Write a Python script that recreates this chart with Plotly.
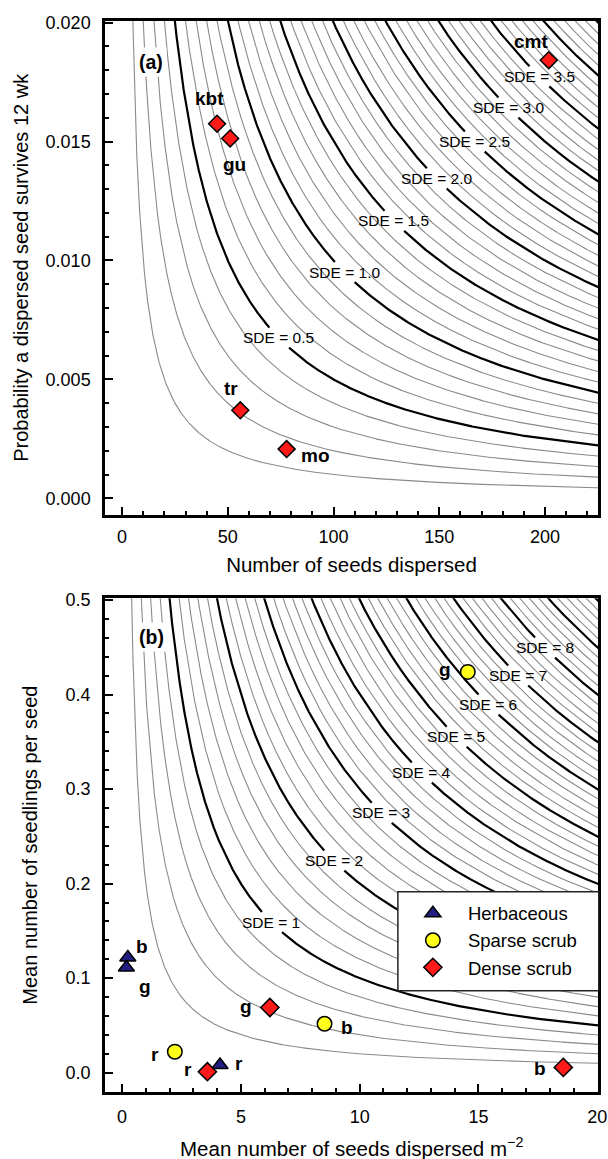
import numpy as np
import plotly.graph_objects as go

# ------------------------------------------------------------------
# DATA
# ------------------------------------------------------------------
# Panel (a): seeds dispersed vs probability a dispersed seed survives 12 wk
a_sites = ["cmt", "kbt", "gu", "tr", "mo"]
a_seeds = [201.8, 44.9, 51.1, 55.9, 77.8]
a_surv = [0.01842, 0.01575, 0.01513, 0.00370, 0.00207]

# SDE isoclines of panel (a): SDE = seeds x survival
a_sde_levels = [round(0.1 * k, 1) for k in range(1, 46)]
a_bold_levels = [0.5, 1.0, 1.5, 2.0, 2.5, 3.0, 3.5, 4.0, 4.5]
a_label_levels = [0.5, 1.0, 1.5, 2.0, 2.5, 3.0, 3.5]
a_label_text = ["SDE = 0.5", "SDE = 1.0", "SDE = 1.5", "SDE = 2.0",
                "SDE = 2.5", "SDE = 3.0", "SDE = 3.5"]

# Panel (b): mean seeds dispersed m-2 vs mean seedlings per seed
habitats = ["Herbaceous", "Sparse scrub", "Dense scrub"]
herb_sites = ["b", "g", "r"]
herb_x = [0.24, 0.18, 4.12]
herb_y = [0.1218, 0.1113, 0.0081]
sparse_sites = ["g", "b", "r"]
sparse_x = [14.55, 8.52, 2.22]
sparse_y = [0.4239, 0.0518, 0.0222]
dense_sites = ["g", "r", "b"]
dense_x = [6.22, 3.59, 18.57]
dense_y = [0.0690, 0.00106, 0.00563]

b_sde_levels = [round(0.2 * k, 1) for k in range(1, 51)]
b_bold_levels = [1, 2, 3, 4, 5, 6, 7, 8, 9, 10]
b_label_levels = [1, 2, 3, 4, 5, 6, 7, 8]
b_label_text = ["SDE = 1", "SDE = 2", "SDE = 3", "SDE = 4",
                "SDE = 5", "SDE = 6", "SDE = 7", "SDE = 8"]

# ------------------------------------------------------------------
# LAYOUT / STYLE
# ------------------------------------------------------------------
FONT = "Liberation Sans, Arial, Helvetica, sans-serif"
W, H = 608, 1159
L_PX, R_PX = 105.3, 598.5
A_T, A_B = 20.7, 515.0
B_T, B_B = 598.3, 1092.0
M_T, M_B = 20, H - 1092
AREA_H = H - M_T - M_B

a_xr = [-8.1, 225.1]
a_yr = [-0.0007, 0.02008]
b_xr = [-0.72, 20.03]
b_yr = [-0.0204, 0.5018]

# label x-positions along each labelled isocline (placement)
a_label_x = [74.0, 105.1, 128.6, 148.7, 166.7, 182.6, 197.3]
b_label_x = [6.28, 8.91, 10.91, 12.6, 14.07, 15.41, 16.66, 17.79]

# point label offsets (px): (dx, dy up)
a_off = [(-18, 19), (-8, 25), (4, -26), (-9, 22), (29, -6)]
herb_off = [(14, 11), (19, -19), (19, 2)]
sparse_off = [(-23, 2), (22, -4), (-20, -3)]
dense_off = [(-24, 1), (-19, 2), (-23, -1)]

# legend box (px)
LEG_L, LEG_R, LEG_T, LEG_B = 398.3, 599.3, 891.7, 990.7

THIN_C, THIN_W = "#8a8a8a", 1.1
BOLD_C, BOLD_W = "#000000", 2.2
SDE_FONT = 15.5


def to_px(x, y, xr, yr, top, bot):
    px = L_PX + (np.asarray(x) - xr[0]) / (xr[1] - xr[0]) * (R_PX - L_PX)
    py = top + (yr[1] - np.asarray(y)) / (yr[1] - yr[0]) * (bot - top)
    return px, py


def iso_xy(c, xr, yr):
    x = np.geomspace(c / (yr[1] * 1.05), xr[1] * 1.02, 2500)
    return x, c / x


def lines_trace(levels, xr, yr, top, bot, labels, color, width, xa, ya):
    xs, ys = [], []
    lab = {lv: (lx, txt) for lv, lx, txt in labels}
    for c in levels:
        x, y = iso_xy(c, xr, yr)
        y = y.astype(float).copy()
        if c in lab:
            lx, txt = lab[c]
            cx, cy = to_px(lx, c / lx, xr, yr, top, bot)
            px, py = to_px(x, y, xr, yr, top, bot)
            hw = len(txt) * 0.52 * SDE_FONT / 2 + 2
            hh = 10
            mask = (np.abs(px - cx) < hw) & (np.abs(py - cy) < hh)
            y[mask] = np.nan
        xs += list(x) + [None]
        ys += [None if np.isnan(v) else v for v in y] + [None]
    return go.Scatter(x=xs, y=ys, mode="lines", xaxis=xa, yaxis=ya,
                      line=dict(color=color, width=width), hoverinfo="skip",
                      showlegend=False, connectgaps=False)


fig = go.Figure()

# ---- panel (a) isoclines ----
a_thin = [c for c in a_sde_levels if c not in a_bold_levels]
fig.add_trace(lines_trace(a_thin, a_xr, a_yr, A_T, A_B, [], THIN_C, THIN_W, "x", "y"))
fig.add_trace(lines_trace(a_bold_levels, a_xr, a_yr, A_T, A_B,
                          list(zip(a_label_levels, a_label_x, a_label_text)),
                          BOLD_C, BOLD_W, "x", "y"))

# ---- panel (b) isoclines ----
b_thin = [c for c in b_sde_levels if c not in b_bold_levels]
fig.add_trace(lines_trace(b_thin, b_xr, b_yr, B_T, B_B, [], THIN_C, THIN_W, "x2", "y2"))
fig.add_trace(lines_trace(b_bold_levels, b_xr, b_yr, B_T, B_B,
                          list(zip(b_label_levels, b_label_x, b_label_text)),
                          BOLD_C, BOLD_W, "x2", "y2"))

RED = "#ff1a1a"
YEL = "#ffff1a"
NAVY = "#211d82"
OUT = dict(color="black", width=1.5)

# ---- panel (a) points ----
fig.add_trace(go.Scatter(x=a_seeds, y=a_surv, mode="markers", xaxis="x", yaxis="y",
                         marker=dict(symbol="diamond", size=13, color=RED, line=OUT),
                         showlegend=False, cliponaxis=False, name="sites"))

# ---- panel (b) points ----
fig.add_trace(go.Scatter(x=herb_x, y=herb_y, mode="markers", xaxis="x2", yaxis="y2",
                         name=habitats[0],
                         marker=dict(symbol="triangle-up", size=14, color=NAVY, line=OUT),
                         cliponaxis=False))
fig.add_trace(go.Scatter(x=sparse_x, y=sparse_y, mode="markers", xaxis="x2", yaxis="y2",
                         name=habitats[1],
                         marker=dict(symbol="circle", size=14.5, color=YEL, line=OUT),
                         cliponaxis=False))
fig.add_trace(go.Scatter(x=dense_x, y=dense_y, mode="markers", xaxis="x2", yaxis="y2",
                         name=habitats[2],
                         marker=dict(symbol="diamond", size=14, color=RED, line=OUT),
                         cliponaxis=False))

ann = []
# isocline labels
for lv, lx, txt in zip(a_label_levels, a_label_x, a_label_text):
    ann.append(dict(x=lx, y=lv / lx, xref="x", yref="y", text=txt, showarrow=False,
                    font=dict(size=SDE_FONT, color="black", family=FONT)))
for lv, lx, txt in zip(b_label_levels, b_label_x, b_label_text):
    ann.append(dict(x=lx, y=lv / lx, xref="x2", yref="y2", text=txt, showarrow=False,
                    font=dict(size=SDE_FONT, color="black", family=FONT)))


# point labels
def add_labels(names, xs, ys, offs, xr, yr):
    for n, x, y, (dx, dy) in zip(names, xs, ys, offs):
        ann.append(dict(x=x, y=y, xref=xr, yref=yr, text="<b>%s</b>" % n,
                        showarrow=False, xshift=dx, yshift=dy,
                        font=dict(size=19, color="black", family=FONT)))


add_labels(a_sites, a_seeds, a_surv, a_off, "x", "y")
add_labels(herb_sites, herb_x, herb_y, herb_off, "x2", "y2")
add_labels(sparse_sites, sparse_x, sparse_y, sparse_off, "x2", "y2")
add_labels(dense_sites, dense_x, dense_y, dense_off, "x2", "y2")

# panel letters
PW = R_PX - L_PX
ann.append(dict(x=29.7 / PW, y=1 - 26.0 / (A_B - A_T), xref="x domain", yref="y domain",
                text="<b>(a)</b>", showarrow=False, bgcolor="white", borderpad=3,
                font=dict(size=19.5, color="black", family=FONT)))
ann.append(dict(x=29.6 / PW, y=1 - 23.4 / (B_B - B_T), xref="x2 domain", yref="y2 domain",
                text="<b>(b)</b>", showarrow=False, bgcolor="white", borderpad=3,
                font=dict(size=19.5, color="black", family=FONT)))

# x-axis title of panel (b), placed in the bottom margin like the reference
ann.append(dict(x=0.5, y=(H - M_B - 1146.5) / AREA_H, xref="paper", yref="paper",
                xanchor="center", yanchor="middle", showarrow=False,
                text="Mean number of seeds dispersed m<sup>\u22122</sup>",
                font=dict(size=20.5, color="black", family=FONT)))

axis_common = dict(showline=True, linecolor="black", linewidth=2.5, mirror=True,
                   ticks="inside", ticklen=8, tickwidth=2, tickcolor="black",
                   showgrid=False, zeroline=False,
                   tickfont=dict(size=18, color="black", family=FONT))


def minor(d):
    return dict(dtick=d, ticks="inside", ticklen=4.5, tickwidth=2, tickcolor="black",
                showgrid=False)


dom_a = [(H - M_B - A_B) / AREA_H, (H - M_B - A_T) / AREA_H]
dom_b = [(H - M_B - B_B) / AREA_H, (H - M_B - B_T) / AREA_H]

# legend frame (drawn as a box behind the transparent legend)
legend_box = dict(type="rect", xref="paper", yref="paper", layer="above",
                  x0=(LEG_L - L_PX) / PW, x1=(LEG_R - L_PX) / PW,
                  y0=(H - M_B - LEG_B) / AREA_H, y1=(H - M_B - LEG_T) / AREA_H,
                  fillcolor="white", line=dict(color="#222", width=1.5))

fig.update_layout(
    width=W, height=H,
    margin=dict(l=L_PX, r=W - R_PX, t=M_T, b=M_B, autoexpand=False),
    paper_bgcolor="white", plot_bgcolor="white",
    font=dict(family=FONT, color="black"),
    xaxis=dict(axis_common, domain=[0, 1], range=a_xr, anchor="y", tick0=0, dtick=50,
               minor=minor(10), ticklabelstandoff=4,
               title=dict(text="Number of seeds dispersed", standoff=12,
                          font=dict(size=20.5, family=FONT))),
    yaxis=dict(axis_common, domain=dom_a, range=a_yr, anchor="x", tick0=0, dtick=0.005,
               tickformat=".3f", minor=minor(0.001), ticklabelstandoff=8,
               title=dict(text="Probability a dispersed seed survives 12 wk", standoff=12,
                          font=dict(size=20, family=FONT))),
    xaxis2=dict(axis_common, domain=[0, 1], range=b_xr, anchor="y2", tick0=0, dtick=5,
                minor=minor(1), ticklabelstandoff=7),
    yaxis2=dict(axis_common, domain=dom_b, range=b_yr, anchor="x2", tick0=0, dtick=0.1,
                tickformat=".1f", minor=minor(0.02), ticklabelstandoff=8,
                title=dict(text="Mean number of seedlings per seed", standoff=23,
                           font=dict(size=20, family=FONT))),
    legend=dict(x=(LEG_L - L_PX) / PW, y=(H - M_B - (LEG_T + 3)) / AREA_H,
                xanchor="left", yanchor="top", bgcolor="rgba(0,0,0,0)",
                borderwidth=0, itemwidth=60,
                font=dict(size=18.5, color="black", family=FONT)),
    shapes=[legend_box],
    annotations=ann,
    showlegend=True,
)

fig.write_html("out.html", config={"displayModeBar": False},
               post_script="document.body.style.margin='0';")
